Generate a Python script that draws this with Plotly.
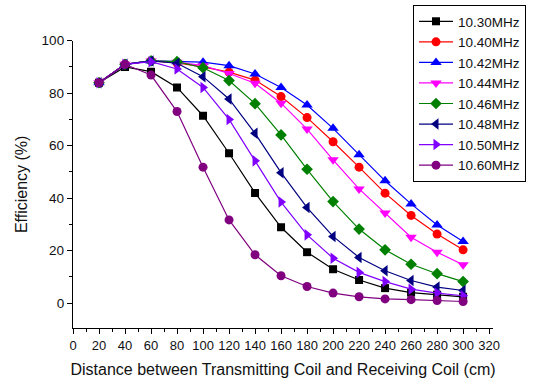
import plotly.graph_objects as go

distance = [20, 40, 60, 80, 100, 120, 140, 160, 180, 200, 220, 240, 260, 280, 300]

labels = ["10.30MHz", "10.40MHz", "10.42MHz", "10.44MHz", "10.46MHz", "10.48MHz", "10.50MHz", "10.60MHz"]

eff_1030 = [84, 90, 88.2, 82.2, 71.4, 57.1, 42.0, 28.9, 19.4, 12.9, 8.8, 5.7, 4.0, 3.2, 2.4]
eff_1040 = [84, 91, 92.3, 91.5, 90.0, 88.0, 85.0, 78.7, 70.7, 61.5, 51.8, 41.9, 33.4, 26.3, 20.3]
eff_1042 = [84, 91, 92.3, 92.0, 91.8, 90.5, 87.3, 82.2, 75.5, 66.6, 56.5, 46.6, 37.8, 29.8, 23.5]
eff_1044 = [84, 91, 92.3, 91.8, 90.5, 87.5, 83.8, 76.2, 66.3, 54.6, 43.5, 34.3, 25.1, 19.4, 14.6]
eff_1046 = [84, 91, 92.3, 92.0, 89.7, 84.8, 76.0, 64.1, 51.0, 38.7, 28.2, 20.3, 14.8, 11.2, 8.2]
eff_1048 = [84, 91, 92.3, 91.4, 86.3, 77.8, 64.7, 49.7, 36.4, 25.4, 17.4, 12.3, 8.6, 6.1, 4.8]
eff_1050 = [84, 91, 92.0, 89.2, 82.2, 70.0, 54.2, 38.5, 26.0, 17.1, 11.7, 8.2, 5.3, 3.8, 2.8]
eff_1060 = [84, 91, 86.9, 73.0, 51.8, 31.7, 18.4, 10.4, 6.3, 3.8, 2.4, 1.6, 1.3, 1.0, 0.6]

series = [eff_1030, eff_1040, eff_1042, eff_1044, eff_1046, eff_1048, eff_1050, eff_1060]
colors = ["#000000", "#FF0000", "#0000FF", "#FF00FF", "#008000", "#000080", "#8000FF", "#800080"]
symbols = ["square", "circle", "triangle-up", "triangle-down", "diamond", "triangle-left", "triangle-right", "circle"]
sizes = [8, 9, 10, 10, 9, 10, 10, 9]

W, H = 547, 381

fig = go.Figure()
for lab, vals, c, s, sz in zip(labels, series, colors, symbols, sizes):
    fig.add_trace(go.Scatter(
        x=distance, y=vals, name=lab, mode="lines+markers",
        line=dict(color=c, width=1.2),
        marker=dict(symbol=s, size=sz, color=c, line=dict(width=0)),
    ))

font_family = "Liberation Sans, Arial, sans-serif"

fig.update_layout(
    width=W, height=H,
    margin=dict(l=0, r=0, t=0, b=0, autoexpand=False),
    paper_bgcolor="white", plot_bgcolor="white",
    font=dict(family=font_family, size=13, color="#111111"),
    showlegend=True,
    legend=dict(
        x=413 / W, y=1 - 5 / H, xanchor="left", yanchor="top",
        bordercolor="#000000", borderwidth=1, bgcolor="white",
        font=dict(size=13.5, family=font_family, color="#111111"),
        tracegroupgap=0, itemwidth=34,
    ),
    xaxis=dict(
        domain=[73 / W, 493 / W], automargin=False,
        range=[0, 323], showgrid=False, zeroline=False,
        showline=True, linecolor="#000000", linewidth=1.3,
        ticks="outside", ticklen=5, tickwidth=1.2, tickcolor="#000000",
        tick0=0, dtick=20,
        minor=dict(ticks="outside", ticklen=3, dtick=10, tick0=0, tickcolor="#000000", tickwidth=1),
        tickfont=dict(size=13),
        title=dict(text="Distance between Transmitting Coil and Receiving Coil (cm)",
                   font=dict(size=16), standoff=12),
    ),
    yaxis=dict(
        domain=[1 - 328 / H, 1 - 40.7 / H], automargin=False,
        range=[-9.5, 100], showgrid=False, zeroline=False,
        showline=True, linecolor="#000000", linewidth=1.3,
        ticks="outside", ticklen=5, tickwidth=1.2, tickcolor="#000000",
        tick0=0, dtick=20,
        minor=dict(ticks="outside", ticklen=3, dtick=10, tick0=0, tickcolor="#000000", tickwidth=1),
        tickfont=dict(size=13.5),
        title=dict(text="Efficiency (%)", font=dict(size=16), standoff=10),
    ),
)

fig.write_html("out.html")
